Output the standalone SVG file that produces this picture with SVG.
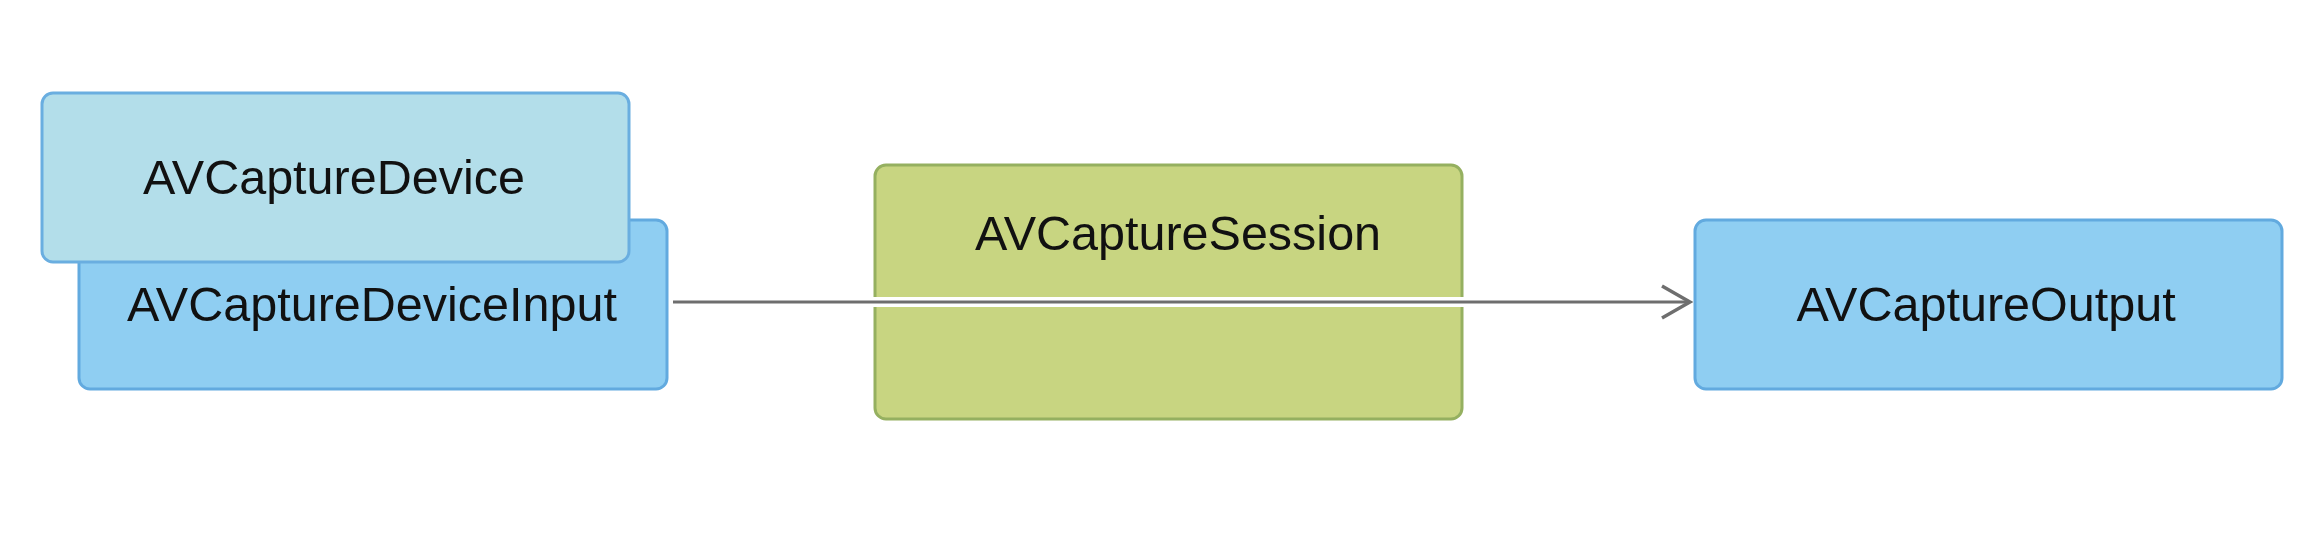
<svg xmlns="http://www.w3.org/2000/svg" width="2320" height="540" viewBox="0 0 2320 540">
<style>
.box{stroke-width:3}
.blue{fill:#8fcef2;stroke:#62aadf}
.lblue{fill:#b3deea;stroke:#6aaee0}
.green{fill:#c8d581;stroke:#95b060}
.lbl{font-family:"Liberation Sans",Arial,sans-serif;font-size:48.5px;fill:#111;text-anchor:middle}
</style>
<defs>
<marker id="chev" viewBox="0 0 34 36" refX="31" refY="18" markerWidth="34" markerHeight="36" markerUnits="userSpaceOnUse" orient="auto">
<path d="M3,2 L31,18 L3,34" fill="none" stroke="#6e6e6e" stroke-width="3.5"/>
</marker>
</defs>
<rect width="2320" height="540" fill="#fff"/>
<g id="input">
<rect class="box blue" x="79" y="220" width="588" height="169" rx="11"/>
<text class="lbl" x="372" y="321">AVCaptureDeviceInput</text>
</g>
<g id="device">
<rect class="box lblue" x="42" y="93" width="587" height="169" rx="11"/>
<text class="lbl" x="334" y="194">AVCaptureDevice</text>
</g>
<g id="session">
<rect class="box green" x="875" y="165" width="587" height="254" rx="11"/>
<text class="lbl" x="1178" y="250">AVCaptureSession</text>
</g>
<g id="output">
<rect class="box blue" x="1695" y="220" width="587" height="169" rx="11"/>
<text class="lbl" x="1986" y="321">AVCaptureOutput</text>
</g>
<g id="connectors">
<line x1="673" y1="302" x2="1686" y2="302" stroke="#fff" stroke-width="10"/>
<line x1="673" y1="302" x2="1690" y2="302" stroke="#6e6e6e" stroke-width="3" marker-end="url(#chev)"/>
</g>
</svg>
